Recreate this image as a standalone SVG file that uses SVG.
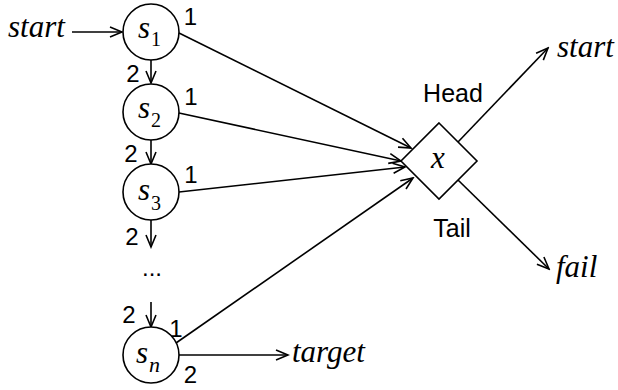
<svg xmlns="http://www.w3.org/2000/svg" width="618" height="390" viewBox="0 0 618 390">
<style>
.node{fill:#fff;stroke:#000;stroke-width:1.6}
.edge{stroke:#000;stroke-width:1.6;fill:none;marker-end:url(#ah)}
.math{font-family:"Liberation Serif",serif;font-style:italic;font-size:31px;fill:#000}
.sub{font-family:"Liberation Serif",serif;font-size:20px;fill:#000}
.lbl{font-family:"Liberation Sans",Arial,sans-serif;font-size:24px;fill:#000}
.big{font-family:"Liberation Sans",Arial,sans-serif;font-size:25px;fill:#000}
</style>
<defs>
<marker id="ah" viewBox="-14 -7 16 14" refX="0" refY="0" markerWidth="16" markerHeight="14" markerUnits="userSpaceOnUse" orient="auto">
<path d="M-12,-5 L0,0 L-12,5" fill="none" stroke="#000" stroke-width="1.6"/>
</marker>
</defs>
<g id="connectors">
<line class="edge" x1="72" y1="32" x2="122" y2="32"/>
<line class="edge" x1="151" y1="60" x2="151" y2="83"/>
<line class="edge" x1="151" y1="140" x2="151" y2="164"/>
<line class="edge" x1="151" y1="220" x2="151" y2="247"/>
<line class="edge" x1="151" y1="302" x2="151" y2="327"/>
<line class="edge" x1="179" y1="33" x2="411" y2="148"/>
<line class="edge" x1="179" y1="113" x2="401" y2="161"/>
<line class="edge" x1="179" y1="192" x2="405" y2="167"/>
<line class="edge" x1="176" y1="343" x2="413" y2="178"/>
<line class="edge" x1="179" y1="355" x2="288" y2="355"/>
<line class="edge" x1="458" y1="142" x2="548" y2="48"/>
<line class="edge" x1="458" y1="180" x2="549" y2="269"/>
<text class="lbl" x="190.5" y="25" text-anchor="middle">1</text>
<text class="lbl" x="191" y="105" text-anchor="middle">1</text>
<text class="lbl" x="191" y="183" text-anchor="middle">1</text>
<text class="lbl" x="176" y="337" text-anchor="middle">1</text>
<text class="lbl" x="190.5" y="383" text-anchor="middle">2</text>
<text class="lbl" x="133" y="82" text-anchor="middle">2</text>
<text class="lbl" x="131" y="162" text-anchor="middle">2</text>
<text class="lbl" x="132" y="245" text-anchor="middle">2</text>
<text class="lbl" x="129" y="323" text-anchor="middle">2</text>
<text class="big" x="453" y="102" text-anchor="middle">Head</text>
<text class="big" x="452" y="237" text-anchor="middle">Tail</text>
</g>
<g id="start-in"><text class="math" x="8" y="37">start</text></g>
<g id="s1"><circle class="node" cx="151" cy="32" r="28"/><text class="math" x="138" y="38">s</text><text class="sub" x="151" y="46">1</text></g>
<g id="s2"><circle class="node" cx="151" cy="112" r="28"/><text class="math" x="138" y="118">s</text><text class="sub" x="151" y="127">2</text></g>
<g id="s3"><circle class="node" cx="151" cy="192" r="28"/><text class="math" x="138" y="200">s</text><text class="sub" x="151" y="210">3</text></g>
<g id="dots"><text class="lbl" x="152" y="276" text-anchor="middle">...</text></g>
<g id="sn"><circle class="node" cx="151" cy="355" r="28"/><text class="math" x="136" y="363">s</text><text class="math" x="149" y="372" style="font-size:22px">n</text></g>
<g id="x"><polygon class="node" points="439,123 477,161 439,199 401,161"/><text class="math" x="438" y="168" text-anchor="middle">x</text></g>
<g id="start-out"><text class="math" x="557" y="57">start</text></g>
<g id="fail"><text class="math" x="556" y="277">fail</text></g>
<g id="target"><text class="math" x="292" y="362">target</text></g>
</svg>
